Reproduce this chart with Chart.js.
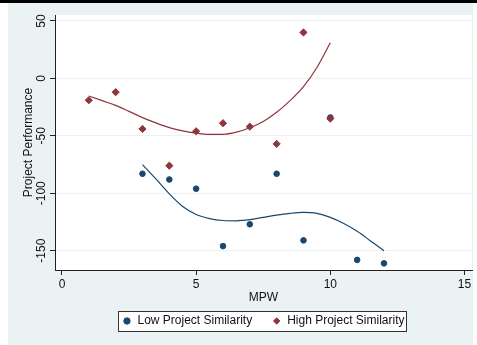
<!DOCTYPE html>
<html>
<head>
<meta charset="utf-8">
<title>Project Performance by MPW</title>
<script src="https://cdn.jsdelivr.net/npm/chart.js@4/dist/chart.umd.min.js"></script>
<style>
  html, body { margin: 0; padding: 0; background: #ffffff; }
  canvas { display: block; }
</style>
</head>
<body>
<canvas id="chart" width="477" height="345"></canvas>
<script>
// Axis ticks
const mpwTicks = [0, 5, 10, 15];
const perfTicks = [-150, -100, -50, 0, 50];

// Observed performance, low project similarity
const lowMpw = [3, 4, 5, 6, 7, 8, 9, 10, 11, 12];
const lowPerf = [-83, -88, -96, -146, -127, -83, -141, -34, -158, -161];

// Observed performance, high project similarity
const highMpw = [1, 2, 3, 4, 5, 6, 7, 8, 9, 10];
const highPerf = [-19, -12, -44, -76, -46, -39, -42, -57, 40, -35];

// Fitted curve, low project similarity
const lowFitMpw = [3, 3.5, 4, 4.5, 5, 5.5, 6, 6.5, 7, 7.5, 8, 8.5, 9, 9.5, 10, 10.5, 11, 11.5, 12];
const lowFitPerf = [-75, -87.5, -100.5, -111.5, -118.5, -122, -123.7, -124, -123, -121, -119, -117.5, -116.7, -117.5, -121, -126.3, -133, -141.5, -150];

// Fitted curve, high project similarity
const highFitMpw = [1, 1.5, 2, 2.5, 3, 3.5, 4, 4.5, 5, 5.5, 6, 6.5, 7, 7.5, 8, 8.5, 9, 9.5, 10];
const highFitPerf = [-15.3, -19.4, -23.5, -28.7, -34.1, -38.7, -42.8, -45.7, -47.6, -48.7, -48.7, -46.8, -43, -37.5, -29.5, -19.3, -7.2, 9.5, 31];

const NAVY = '#1a476f';
const MAROON = '#90353b';
const PANEL = '#eaf2f3';
const INK = '#111111';
const AXIS = '#222222';
const FONT = { family: '"Liberation Sans", Arial, sans-serif', size: 12 };

const toPoints = (xs, ys) => xs.map((x, i) => ({ x, y: ys[i] }));

// Page panel, plot region, legend frame and the upright y tick labels
const backdrop = {
  id: 'backdrop',
  beforeDraw(chart) {
    const { ctx, chartArea: a, width, height } = chart;
    ctx.save();
    ctx.fillStyle = '#ffffff';
    ctx.fillRect(0, 0, width, height);
    ctx.fillStyle = PANEL;
    ctx.fillRect(8, 3, 465, height - 3);
    ctx.fillStyle = '#000000';
    ctx.fillRect(0, 0, width, 3);
    ctx.fillStyle = '#ffffff';
    ctx.fillRect(a.left, a.top, a.right - a.left, a.bottom - a.top);

    const lg = chart.legend;
    if (lg && lg.legendHitBoxes && lg.legendHitBoxes.length) {
      const hb = lg.legendHitBoxes;
      const l = Math.min(...hb.map(h => h.left));
      const r = Math.max(...hb.map(h => h.left + h.width));
      const cy = hb[0].top + hb[0].height / 2;
      const bx = Math.round(l - 4) + 0.5;
      const by = Math.round(cy - 10) + 0.5;
      const bw = Math.round(r - l + 6);
      ctx.fillStyle = '#ffffff';
      ctx.fillRect(bx, by, bw, 20);
      ctx.strokeStyle = '#333333';
      ctx.lineWidth = 1;
      ctx.strokeRect(bx, by, bw, 20);
    }
    ctx.restore();
  },
  afterDraw(chart) {
    const { ctx } = chart;
    const y = chart.scales.y;
    ctx.save();
    ctx.fillStyle = INK;
    ctx.font = `${FONT.size}px ${FONT.family}`;
    ctx.textAlign = 'center';
    ctx.textBaseline = 'middle';
    perfTicks.forEach(v => {
      ctx.save();
      ctx.translate(41.5, y.getPixelForValue(v));
      ctx.rotate(-Math.PI / 2);
      ctx.fillText(String(v), 0, 0);
      ctx.restore();
    });
    ctx.restore();
  }
};

new Chart(document.getElementById('chart'), {
  type: 'scatter',
  data: {
    datasets: [
      {
        label: 'Low Project Similarity',
        data: toPoints(lowMpw, lowPerf),
        pointStyle: 'circle',
        pointRadius: 2.8,
        borderWidth: 1,
        backgroundColor: NAVY,
        borderColor: NAVY,
        order: 1
      },
      {
        label: 'High Project Similarity',
        data: toPoints(highMpw, highPerf),
        pointStyle: 'rectRot',
        pointRadius: 3.6,
        borderWidth: 1,
        backgroundColor: MAROON,
        borderColor: MAROON,
        order: 0
      },
      {
        label: 'Fit, low similarity',
        data: toPoints(lowFitMpw, lowFitPerf),
        showLine: true,
        pointRadius: 0,
        borderColor: NAVY,
        backgroundColor: NAVY,
        borderWidth: 1.2,
        cubicInterpolationMode: 'monotone',
        fill: false,
        order: 2
      },
      {
        label: 'Fit, high similarity',
        data: toPoints(highFitMpw, highFitPerf),
        showLine: true,
        pointRadius: 0,
        borderColor: MAROON,
        backgroundColor: MAROON,
        borderWidth: 1.2,
        cubicInterpolationMode: 'monotone',
        fill: false,
        order: 3
      }
    ]
  },
  options: {
    responsive: false,
    animation: false,
    devicePixelRatio: 1,
    layout: { padding: { left: 8, top: 15, right: 4.5, bottom: 8 } },
    plugins: {
      legend: {
        position: 'bottom',
        fullSize: false,
        labels: {
          filter: item => item.datasetIndex < 2,
          sort: (a, b) => a.datasetIndex - b.datasetIndex,
          usePointStyle: true,
          boxWidth: 9,
          boxHeight: 4.5,
          padding: 20,
          color: INK,
          font: FONT
        }
      },
      tooltip: { enabled: false }
    },
    scales: {
      x: {
        type: 'linear',
        min: -0.26,
        max: 15.28,
        afterBuildTicks: s => { s.ticks = mpwTicks.map(v => ({ value: v })); },
        afterFit: s => { s.height = 25; },
        grid: { drawOnChartArea: false, drawTicks: true, tickLength: 5, tickColor: AXIS, tickWidth: 1 },
        border: { color: AXIS, width: 1 },
        ticks: { padding: 2.8, maxRotation: 0, minRotation: 0, color: INK, font: FONT },
        title: { display: true, text: 'MPW', color: INK, font: FONT, padding: { top: 0, bottom: -10.2 } }
      },
      y: {
        type: 'linear',
        min: -166.8,
        max: 55.2,
        afterBuildTicks: s => { s.ticks = perfTicks.map(v => ({ value: v })); },
        afterFit: s => { s.width = 47; },
        grid: { color: PANEL, lineWidth: 1, drawTicks: true, tickLength: 5, tickColor: AXIS, tickWidth: 1 },
        border: { color: AXIS, width: 1 },
        ticks: { display: false },
        title: { display: true, text: 'Project Performance', color: INK, font: FONT, padding: { top: 13.8, bottom: 0 } }
      }
    }
  },
  plugins: [backdrop]
});
</script>
</body>
</html>
